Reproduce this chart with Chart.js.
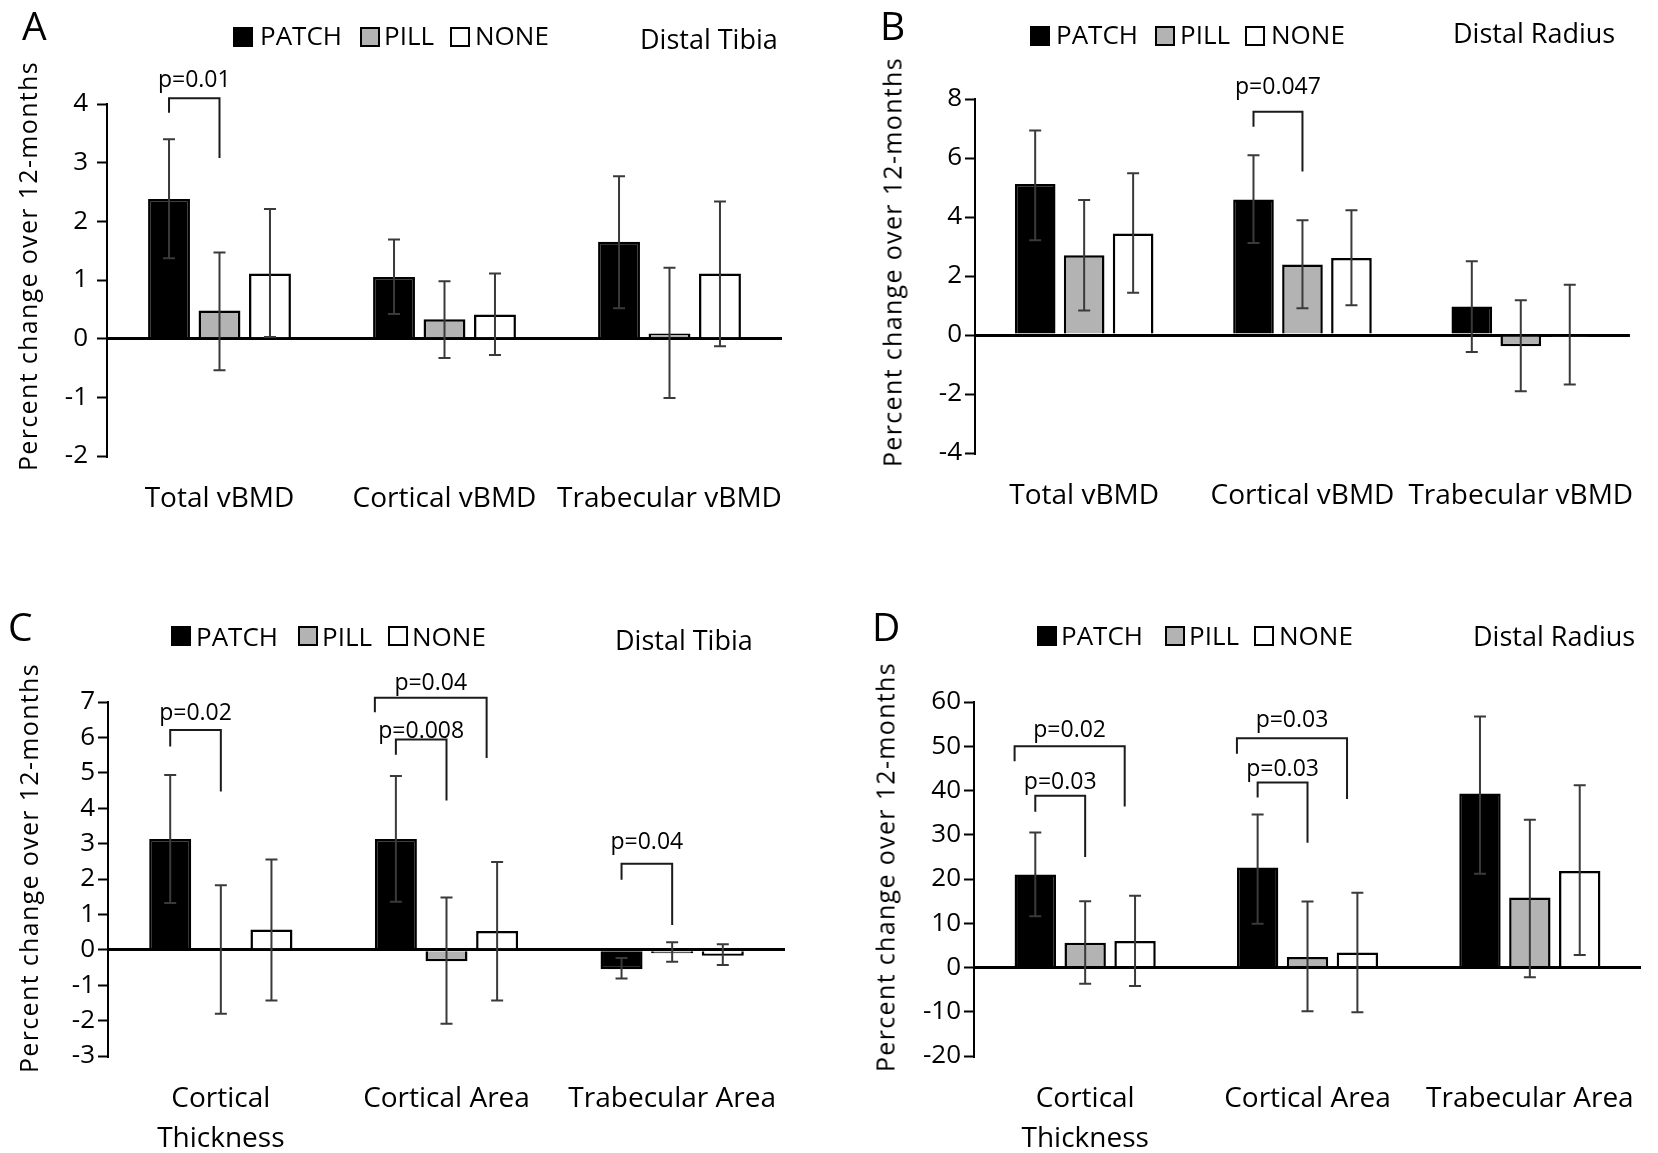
<!DOCTYPE html>
<html>
<head>
<meta charset="utf-8">
<script src="https://cdn.jsdelivr.net/npm/chart.js@4.4.1/dist/chart.umd.min.js"></script>
<style>
  body { margin: 0; background: #fff; width: 1658px; height: 1153px; overflow: hidden; font-family: 'Open Sans', sans-serif; }
  canvas { position: absolute; }
  .txt { position: absolute; white-space: nowrap; line-height: 1; color: #000; }
  .box { position: absolute; width: 20px; height: 20px; box-sizing: border-box; border: 2px solid #000; }
</style>
</head>
<body>
<script>
// categories and series
const seriesNames = ['PATCH', 'PILL', 'NONE'];
const vbmdGroups = ['Total vBMD', 'Cortical vBMD', 'Trabecular vBMD'];
const structGroups = [['Cortical', 'Thickness'], 'Cortical Area', 'Trabecular Area'];

// A - distal tibia, vBMD (% change, with error bar ends)
const aPatch = [2.38, 1.05, 1.65], aPatchLo = [1.37, 0.42, 0.52], aPatchHi = [3.40, 1.69, 2.77];
const aPill = [0.48, 0.33, 0.09], aPillLo = [-0.54, -0.33, -1.01], aPillHi = [1.47, 0.98, 1.21];
const aNone = [1.11, 0.41, 1.11], aNoneLo = [0.03, -0.28, -0.13], aNoneHi = [2.21, 1.11, 2.34];

// B - distal radius, vBMD
const bPatch = [5.12, 4.59, 0.97], bPatchLo = [3.21, 3.12, -0.58], bPatchHi = [6.93, 6.09, 2.50];
const bPill = [2.70, 2.39, -0.38], bPillLo = [0.83, 0.91, -1.91], bPillHi = [4.58, 3.89, 1.18];
const bNone = [3.44, 2.61, -0.06], bNoneLo = [1.43, 1.01, -1.68], bNoneHi = [5.48, 4.23, 1.70];

// C - distal tibia, structure
const cPatch = [3.13, 3.13, -0.55], cPatchLo = [1.32, 1.36, -0.81], cPatchHi = [4.94, 4.91, -0.23];
const cPill = [-0.04, -0.32, -0.10], cPillLo = [-1.81, -2.09, -0.34], cPillHi = [1.82, 1.48, 0.21];
const cNone = [0.57, 0.53, -0.17], cNoneLo = [-1.43, -1.43, -0.43], cNoneHi = [2.55, 2.48, 0.16];

// D - distal radius, structure
const dPatch = [21.0, 22.6, 39.3], dPatchLo = [11.6, 9.9, 21.2], dPatchHi = [30.5, 34.6, 56.7];
const dPill = [5.6, 2.4, 15.8], dPillLo = [-3.7, -9.9, -2.2], dPillHi = [15.0, 14.9, 33.4];
const dNone = [6.0, 3.4, 21.8], dNoneLo = [-4.2, -10.1, 2.8], dNoneHi = [16.2, 16.9, 41.2];

// y axis ranges [min, max, step]
const aRange = [-2, 4, 1], bRange = [-4, 8, 2], cRange = [-3, 7, 1], dRange = [-20, 60, 10];

// significance brackets: [group, from series, to series, bar level, left end, right end, label level, text]
const aBrackets = [[0, 0, 1, 4.10, 3.85, 3.08, 4.29, 'p=0.01']];
const bBrackets = [[1, 0, 1, 7.57, 7.06, 5.54, 8.17, 'p=0.047']];
const cBrackets = [
  [0, 0, 1, 6.21, 5.74, 4.47, 6.48, 'p=0.02'],
  [1, 0, 1, 5.94, 5.51, 4.22, 5.99, 'p=0.008'],
  [1, 0, 2, 7.12, 6.71, 5.42, 7.33, 'p=0.04'],
  [2, 0, 1, 2.43, 1.98, 0.70, 2.84, 'p=0.04']
];
const dBrackets = [
  [0, 0, 2, 50.0, 46.6, 36.4, 52.0, 'p=0.02'],
  [0, 0, 1, 38.8, 35.2, 25.0, 40.4, 'p=0.03'],
  [1, 0, 2, 51.8, 48.3, 38.1, 54.3, 'p=0.03'],
  [1, 0, 1, 41.8, 38.4, 28.2, 43.3, 'p=0.03']
];

const FONT = "'Open Sans', sans-serif";
const fills = ['#000000', '#b3b3b3', '#ffffff'];

const errorBars = {
  id: 'errorBars',
  afterDatasetsDraw(chart) {
    const ctx = chart.ctx, y = chart.scales.y;
    ctx.save();
    ctx.strokeStyle = '#3a3a3a';
    ctx.lineWidth = 2;
    chart.data.datasets.forEach((ds, i) => {
      chart.getDatasetMeta(i).data.forEach((bar, j) => {
        const x = bar.x;
        const lo = y.getPixelForValue(ds.errLo[j]);
        const hi = y.getPixelForValue(ds.errHi[j]);
        ctx.beginPath();
        ctx.moveTo(x, lo); ctx.lineTo(x, hi);
        ctx.moveTo(x - 6, lo); ctx.lineTo(x + 6, lo);
        ctx.moveTo(x - 6, hi); ctx.lineTo(x + 6, hi);
        ctx.stroke();
      });
    });
    ctx.restore();
  }
};

function bracketPlugin(list) {
  return {
    id: 'brackets',
    afterDraw(chart) {
      const ctx = chart.ctx, y = chart.scales.y;
      ctx.save();
      ctx.strokeStyle = '#1a1a1a';
      ctx.lineWidth = 2;
      ctx.fillStyle = '#000';
      ctx.font = '23px ' + FONT;
      ctx.textAlign = 'center';
      ctx.textBaseline = 'alphabetic';
      list.forEach(b => {
        const [g, from, to, top, leftEnd, rightEnd, labelAt, text] = b;
        const barA = chart.getDatasetMeta(from).data[g];
        const barB = chart.getDatasetMeta(to).data[g];
        const wide = to - from > 1;
        const x1 = wide ? barA.x - barA.width / 2 : barA.x;
        const x2 = wide ? barB.x - barB.width * 0.25 : barB.x;
        const yt = y.getPixelForValue(top);
        ctx.beginPath();
        ctx.moveTo(x1, y.getPixelForValue(leftEnd));
        ctx.lineTo(x1, yt);
        ctx.lineTo(x2, yt);
        ctx.lineTo(x2, y.getPixelForValue(rightEnd));
        ctx.stroke();
        ctx.fillText(text, (x1 + x2) / 2, y.getPixelForValue(labelAt));
      });
      ctx.restore();
    }
  };
}

function addText(str, x, baseline, size, extra) {
  const el = document.createElement('div');
  el.className = 'txt';
  el.textContent = str;
  el.style.left = x + 'px';
  el.style.top = (baseline - 0.888 * size) + 'px';
  el.style.fontSize = size + 'px';
  if (extra) Object.assign(el.style, extra);
  document.body.appendChild(el);
  return el;
}

function addYTitle(cx, cy) {
  const el = document.createElement('div');
  el.className = 'txt';
  el.textContent = 'Percent change over 12-months';
  el.style.fontSize = '25px';
  const m = document.createElement('canvas').getContext('2d');
  m.font = '25px ' + FONT;
  const w = m.measureText(el.textContent).width;
  el.style.letterSpacing = ((410 - w) / el.textContent.length) + 'px';
  el.style.left = cx + 'px';
  el.style.top = cy + 'px';
  el.style.transform = 'translate(-50%, -50%) rotate(-90deg)';
  document.body.appendChild(el);
}

function addLegend(boxXs, textXs, boxTop, baseline) {
  seriesNames.forEach((name, i) => {
    const b = document.createElement('div');
    b.className = 'box';
    b.style.left = boxXs[i] + 'px';
    b.style.top = boxTop + 'px';
    b.style.background = fills[i];
    document.body.appendChild(b);
    addText(name, textXs[i] - 2, baseline, 26);
  });
}

function drawPanel(p) {
  const cv = document.createElement('canvas');
  cv.width = p.w; cv.height = p.h;
  cv.style.left = p.left + 'px';
  cv.style.top = p.top + 'px';
  document.body.appendChild(cv);
  const [l, r, t, b] = p.area;
  new Chart(cv, {
    type: 'bar',
    data: {
      labels: p.labels,
      datasets: p.series.map((s, i) => ({
        label: seriesNames[i],
        data: s[0],
        errLo: s[1],
        errHi: s[2],
        backgroundColor: fills[i],
        borderColor: '#000',
        borderWidth: 2.5,
        barPercentage: 0.83,
        categoryPercentage: 0.673
      }))
    },
    options: {
      responsive: false,
      animation: false,
      layout: { padding: { left: 0, top: t, right: p.w - r, bottom: 0 } },
      plugins: { legend: { display: false }, tooltip: { enabled: false } },
      scales: {
        x: {
          grid: { display: false, drawTicks: false },
          border: { display: false },
          ticks: { color: '#000', font: { family: FONT, size: 28, lineHeight: 1.43 }, padding: 23, maxRotation: 0, autoSkip: false },
          afterFit: s => { s.height = p.h - b; }
        },
        y: {
          min: p.range[0], max: p.range[1],
          ticks: { stepSize: p.range[2], color: '#000', font: { family: FONT, size: 26 }, padding: p.tickPad },
          grid: {
            color: c => (c.tick && c.tick.value === 0 ? '#000' : 'rgba(0,0,0,0)'),
            lineWidth: 3,
            tickColor: '#000',
            tickWidth: 2,
            tickLength: 10
          },
          border: { display: true, color: '#000', width: 2 },
          afterFit: s => { s.width = l; }
        }
      }
    },
    plugins: [errorBars, bracketPlugin(p.brackets)]
  });
}

drawPanel({ left: 0, top: 0, w: 829, h: 560, area: [107, 782, 104, 456], labels: vbmdGroups,
  series: [[aPatch, aPatchLo, aPatchHi], [aPill, aPillLo, aPillHi], [aNone, aNoneLo, aNoneHi]],
  range: aRange, brackets: aBrackets, tickPad: 9 });
drawPanel({ left: 830, top: 0, w: 828, h: 560, area: [145, 817, 99, 453], labels: vbmdGroups,
  series: [[bPatch, bPatchLo, bPatchHi], [bPill, bPillLo, bPillHi], [bNone, bNoneLo, bNoneHi]],
  range: bRange, brackets: bBrackets, tickPad: 3 });
drawPanel({ left: 0, top: 580, w: 829, h: 573, area: [108, 785, 122, 476], labels: structGroups,
  series: [[cPatch, cPatchLo, cPatchHi], [cPill, cPillLo, cPillHi], [cNone, cNoneLo, cNoneHi]],
  range: cRange, brackets: cBrackets, tickPad: 3 });
drawPanel({ left: 830, top: 580, w: 828, h: 573, area: [144, 820, 122, 476], labels: structGroups,
  series: [[dPatch, dPatchLo, dPatchHi], [dPill, dPillLo, dPillHi], [dNone, dNoneLo, dNoneHi]],
  range: dRange, brackets: dBrackets, tickPad: 3 });

// panel letters
addText('A', 22, 40, 39);
addText('B', 880, 40, 39);
addText('C', 8, 641, 39);
addText('D', 872, 641, 39);

// site labels
addText('Distal Tibia', 640, 49, 27);
addText('Distal Radius', 1453, 43, 27);
addText('Distal Tibia', 615, 650, 27);
addText('Distal Radius', 1473, 646, 27);

// legends
addLegend([233, 360, 450], [262, 386, 477], 27, 45);
addLegend([1030, 1155, 1245], [1058, 1182, 1273], 26, 44);
addLegend([171, 298, 388], [198, 324, 414], 626, 646);
addLegend([1037, 1165, 1254], [1063, 1191, 1281], 626, 645);

// y axis titles
addYTitle(27, 266);
addYTitle(892, 262);
addYTitle(28, 868);
addYTitle(885, 867);
</script>
</body>
</html>
